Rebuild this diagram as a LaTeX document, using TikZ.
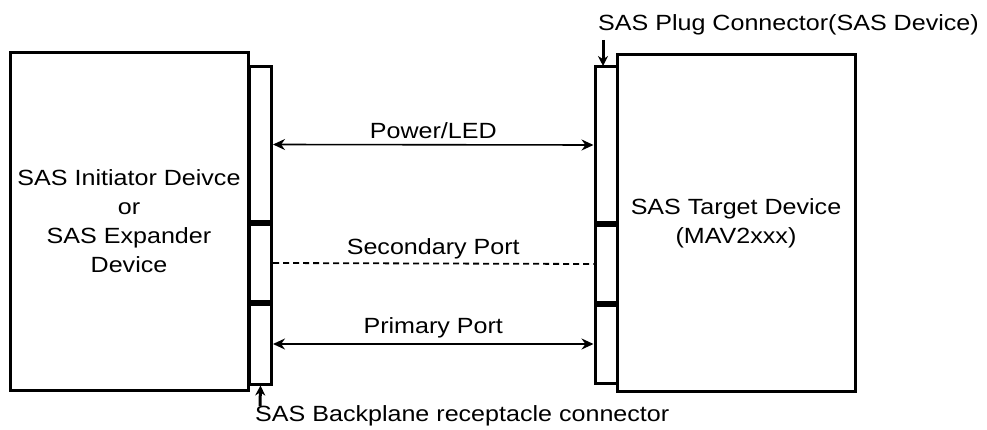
\documentclass[tikz,border=0pt]{standalone}
\usepackage{fontspec}
\setmainfont[FakeStretch=1.14]{Liberation Sans}
\usetikzlibrary{arrows.meta,positioning}

\begin{document}
\begin{tikzpicture}[x=1pt,y=-1pt,
  every node/.style={font=\fontsize{22}{29}\selectfont,inner sep=0pt},
  devbox/.style={draw,line width=3pt,align=center},
  slot/.style={draw,line width=3pt,minimum width=22pt},
  wire/.style={{Stealth[length=12pt,width=11pt]}-{Stealth[length=12pt,width=11pt]},line width=1.6pt},
  pointer/.style={-{Stealth[length=10pt,width=10pt]},line width=3pt}]
  \useasboundingbox (0,0) rectangle (987,430);
  % devices
  \node[devbox,minimum width=238pt,minimum height=337pt] (init) at (129,221.5)
    {SAS Initiator Deivce\\or\\SAS Expander\\Device};
  \node[devbox,minimum width=238pt,minimum height=336pt] (tgt) at (736,223)
    {SAS Target Device\\(MAV2xxx)};
  % backplane receptacle
  \node[slot,minimum height=155pt] (lpow) at (260.5,144.5) {};
  \node[slot,minimum height=76pt,below=0pt of lpow] (lsec) {};
  \node[slot,minimum height=80pt,below=0pt of lsec] (lpri) {};
  % plug connector
  \node[slot,minimum height=156pt] (rpow) at (606,145) {};
  \node[slot,minimum height=76pt,below=0pt of rpow] (rsec) {};
  \node[slot,minimum height=78pt,below=0pt of rsec] (rpri) {};
  % links
  \draw[wire] (lpow.east) -- node[above=5pt] {Power/LED} (rpow.west);
  \draw[dashed,dash pattern=on 6pt off 4pt,line width=1.8pt] (lsec.east) -- node[above=4pt] {Secondary Port} (rsec.west);
  \draw[wire] (lpri.east) -- node[above=5pt] {Primary Port} (rpri.west);
  % connector callouts
  \node[anchor=west] (plug) at (598,25) {SAS Plug Connector(SAS Device)};
  \coordinate (plugtip) at (603,40);
  \draw[pointer] (plugtip) -- (603,66);
  \node[anchor=west] (recp) at (255,416) {SAS Backplane receptacle connector};
  \coordinate (recptip) at (260,406);
  \draw[pointer] (recptip) -- (lpri.south);
\end{tikzpicture}
\end{document}
